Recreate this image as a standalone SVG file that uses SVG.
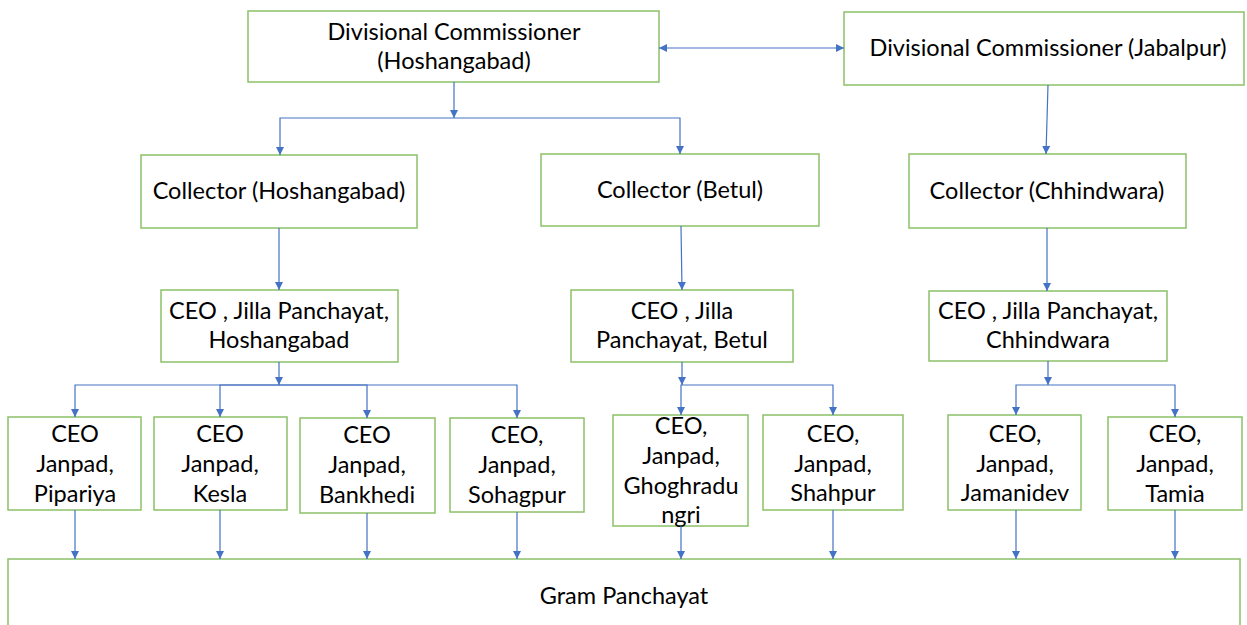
<svg xmlns="http://www.w3.org/2000/svg" width="1247" height="625" viewBox="0 0 1247 625">
<style>
.box{fill:#fff;stroke:#8CC168;stroke-width:1.5}
.c{fill:none;stroke:#4472C4;stroke-width:1.2}
text{font-family:Lato,"Liberation Sans",sans-serif;font-size:23.5px;fill:#000;text-anchor:middle}
</style>
<defs>
<marker id="a" viewBox="0 0 10 10" refX="10" refY="5" markerWidth="8" markerHeight="8" markerUnits="userSpaceOnUse" orient="auto-start-reverse"><path d="M0,0L10,5L0,10z" fill="#4472C4"/></marker>
</defs>
<rect width="1247" height="625" fill="#fff"/>
<g id="n-gram"><rect class="box" x="8" y="559" width="1232" height="80"/><text x="624" y="604">Gram Panchayat</text></g>
<g id="n-dch"><rect class="box" x="248" y="11" width="411" height="71"/><text x="454" y="40">Divisional Commissioner</text><text x="454" y="69">(Hoshangabad)</text></g>
<g id="n-dcj"><rect class="box" x="844" y="12" width="400" height="73"/><text x="1048" y="56">Divisional Commissioner (Jabalpur)</text></g>
<g id="n-colh"><rect class="box" x="141" y="155" width="276" height="73"/><text x="279" y="199">Collector (Hoshangabad)</text></g>
<g id="n-colb"><rect class="box" x="541" y="154" width="278" height="72"/><text x="680" y="198">Collector (Betul)</text></g>
<g id="n-colc"><rect class="box" x="909" y="154" width="277" height="74"/><text x="1047" y="199">Collector (Chhindwara)</text></g>
<g id="n-jph"><rect class="box" x="161" y="290" width="237" height="72"/><text x="279" y="319">CEO , Jilla Panchayat,</text><text x="279" y="348">Hoshangabad</text></g>
<g id="n-jpb"><rect class="box" x="571" y="290" width="222" height="72"/><text x="682" y="319">CEO , Jilla</text><text x="682" y="348">Panchayat, Betul</text></g>
<g id="n-jpc"><rect class="box" x="929" y="291" width="238" height="70"/><text x="1048" y="319">CEO , Jilla Panchayat,</text><text x="1048" y="348">Chhindwara</text></g>
<g id="n-pip"><rect class="box" x="8" y="417" width="133" height="93"/><text x="75" y="442">CEO</text><text x="75" y="472">Janpad,</text><text x="75" y="502">Pipariya</text></g>
<g id="n-kes"><rect class="box" x="154" y="417" width="133" height="93"/><text x="220" y="442">CEO</text><text x="220" y="472">Janpad,</text><text x="220" y="502">Kesla</text></g>
<g id="n-ban"><rect class="box" x="300" y="418" width="135" height="95"/><text x="367" y="443">CEO</text><text x="367" y="473">Janpad,</text><text x="367" y="503">Bankhedi</text></g>
<g id="n-soh"><rect class="box" x="450" y="418" width="134" height="94"/><text x="517" y="443">CEO,</text><text x="517" y="473">Janpad,</text><text x="517" y="503">Sohagpur</text></g>
<g id="n-gho"><rect class="box" x="613" y="415" width="135" height="111"/><text x="681" y="434">CEO,</text><text x="681" y="464">Janpad,</text><text x="681" y="494">Ghoghradu</text><text x="681" y="523">ngri</text></g>
<g id="n-sha"><rect class="box" x="763" y="415" width="140" height="95"/><text x="833" y="442">CEO,</text><text x="833" y="472">Janpad,</text><text x="833" y="501">Shahpur</text></g>
<g id="n-jam"><rect class="box" x="948" y="415" width="133" height="95"/><text x="1015" y="442">CEO,</text><text x="1015" y="472">Janpad,</text><text x="1015" y="501">Jamanidev</text></g>
<g id="n-tam"><rect class="box" x="1108" y="417" width="134" height="93"/><text x="1175" y="442">CEO,</text><text x="1175" y="472">Janpad,</text><text x="1175" y="502">Tamia</text></g>
<g id="connectors">
<path class="c" d="M659,48H844" marker-start="url(#a)" marker-end="url(#a)"/>
<path class="c" d="M454,82V118" marker-end="url(#a)"/>
<path class="c" d="M454,118H280V155" marker-end="url(#a)"/>
<path class="c" d="M454,118H680V154" marker-end="url(#a)"/>
<path class="c" d="M1048,85L1046,154" marker-end="url(#a)"/>
<path class="c" d="M279,228V290" marker-end="url(#a)"/>
<path class="c" d="M681,226L682,290" marker-end="url(#a)"/>
<path class="c" d="M1047,228V291" marker-end="url(#a)"/>
<path class="c" d="M279,362V385" marker-end="url(#a)"/>
<path class="c" d="M279,385H75V417" marker-end="url(#a)"/>
<path class="c" d="M279,385H220V417" marker-end="url(#a)"/>
<path class="c" d="M279,385H367V418" marker-end="url(#a)"/>
<path class="c" d="M279,385H517V418" marker-end="url(#a)"/>
<path class="c" d="M682,362V385" marker-end="url(#a)"/>
<path class="c" d="M682,385H681V415" marker-end="url(#a)"/>
<path class="c" d="M682,385H833V415" marker-end="url(#a)"/>
<path class="c" d="M1048,361V385" marker-end="url(#a)"/>
<path class="c" d="M1048,385H1016V415" marker-end="url(#a)"/>
<path class="c" d="M1048,385H1175V417" marker-end="url(#a)"/>
<path class="c" d="M75,510V559" marker-end="url(#a)"/>
<path class="c" d="M220,510V559" marker-end="url(#a)"/>
<path class="c" d="M367,513V559" marker-end="url(#a)"/>
<path class="c" d="M517,512V559" marker-end="url(#a)"/>
<path class="c" d="M681,526V559" marker-end="url(#a)"/>
<path class="c" d="M833,510V559" marker-end="url(#a)"/>
<path class="c" d="M1016,510V559" marker-end="url(#a)"/>
<path class="c" d="M1175,510V559" marker-end="url(#a)"/>
</g>
</svg>
